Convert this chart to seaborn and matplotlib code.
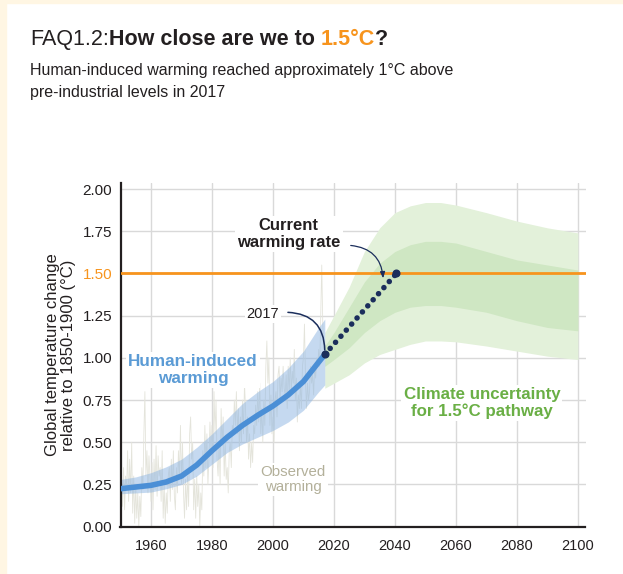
import numpy as np
import matplotlib
matplotlib.use("Agg")
import matplotlib.pyplot as plt
import seaborn as sns
from matplotlib.patches import Rectangle

# human-induced warming (central estimate) and its likely range
hi_years = [1950, 1955, 1960, 1965, 1970, 1975, 1980, 1985, 1990, 1995, 2000, 2005, 2010, 2015, 2017]
hi_vals = [0.225, 0.235, 0.245, 0.265, 0.30, 0.365, 0.45, 0.53, 0.60, 0.66, 0.715, 0.78, 0.86, 0.975, 1.02]
hi_low = [0.195, 0.20, 0.205, 0.225, 0.25, 0.30, 0.37, 0.44, 0.49, 0.53, 0.57, 0.62, 0.69, 0.80, 0.84]
hi_high = [0.28, 0.295, 0.32, 0.355, 0.40, 0.47, 0.55, 0.64, 0.73, 0.80, 0.86, 0.94, 1.04, 1.18, 1.23]

# observed warming, three readings per year 1950-2017
obs_vals = [
    0.05, 0.28, 0.12, 0.35, 0.10, 0.30, 0.22, 0.45, 0.15, 0.40, 0.20, 0.50, 0.08, 0.30, 0.02,
    0.25, 0.05, 0.20, 0.00, 0.18, 0.06, 0.35, 0.22, 0.55, 0.80, 0.30, 0.45, 0.20, 0.42, 0.28,
    0.15, 0.38, 0.10, 0.40, 0.22, 0.48, 0.18, 0.42, 0.30, 0.35, 0.15, 0.45, 0.05, 0.25, 0.02,
    0.20, 0.08, 0.30, 0.35, 0.15, 0.40, 0.22, 0.45, 0.18, 0.10, 0.35, 0.20, 0.45, 0.30, 0.60,
    0.25, 0.50, 0.20, 0.05, 0.28, 0.10, 0.30, 0.12, 0.55, 0.65, 0.40, 0.50, 0.10, 0.28, 0.05,
    0.30, 0.12, 0.25, 0.00, 0.20, 0.10, 0.45, 0.30, 0.60, 0.35, 0.55, 0.25, 0.40, 0.62, 0.45,
    0.60, 0.35, 0.80, 0.55, 0.75, 0.40, 0.30, 0.50, 0.25, 0.70, 0.48, 0.65, 0.30, 0.50, 0.28,
    0.35, 0.20, 0.45, 0.50, 0.35, 0.60, 0.55, 0.75, 0.60, 0.80, 0.55, 0.70, 0.45, 0.65, 0.50,
    0.75, 0.55, 0.85, 0.70, 0.50, 0.65, 0.40, 0.55, 0.35, 0.50, 0.38, 0.60, 0.55, 0.72, 0.60,
    0.80, 0.62, 0.85, 0.55, 0.70, 0.50, 0.75, 0.60, 0.95, 1.10, 0.85, 1.00, 0.60, 0.78, 0.55,
    0.65, 0.50, 0.75, 0.80, 0.65, 0.90, 0.95, 0.75, 0.88, 0.80, 0.95, 0.82, 0.78, 0.90, 0.70,
    0.95, 0.80, 1.00, 0.80, 0.92, 0.85, 1.05, 0.75, 0.88, 0.62, 0.78, 0.70, 0.85, 0.70, 0.95,
    1.00, 1.20, 0.88, 0.70, 0.85, 0.75, 0.80, 0.95, 0.85, 0.90, 0.78, 0.95, 0.88, 1.00, 0.95,
    1.05, 0.95, 1.25, 1.55, 1.20, 1.05, 1.10, 1.00, 1.15,
]
obs_years = 1950 + np.arange(len(obs_vals)) / 3

# 1.5C pathway uncertainty
cone_years = [2017, 2020, 2025, 2030, 2035, 2040, 2045, 2050, 2055, 2060, 2070, 2080, 2090, 2100]
outer_high = [1.15, 1.25, 1.42, 1.63, 1.77, 1.86, 1.90, 1.92, 1.92, 1.905, 1.86, 1.81, 1.77, 1.74]
inner_high = [1.07, 1.15, 1.30, 1.45, 1.56, 1.63, 1.67, 1.69, 1.69, 1.68, 1.63, 1.58, 1.55, 1.52]
inner_low = [0.95, 0.99, 1.06, 1.15, 1.22, 1.27, 1.30, 1.31, 1.31, 1.30, 1.27, 1.22, 1.18, 1.16]
outer_low = [0.82, 0.85, 0.90, 0.97, 1.02, 1.05, 1.08, 1.10, 1.10, 1.095, 1.07, 1.04, 1.01, 0.99]

# current warming rate extrapolation
rate_years = [2017, 2040.5]
rate_vals = [1.02, 1.50]

x_ticks = [1960, 1980, 2000, 2020, 2040, 2060, 2080, 2100]
y_ticks = [0.00, 0.25, 0.50, 0.75, 1.00, 1.25, 1.50, 1.75, 2.00]

DARK = "#231F20"
BLUE = "#4B8FD6"
BLUE_TXT = "#5B9BD5"
GREEN_TXT = "#6AAF45"
ORANGE = "#F7941D"
NAVY = "#1B2E5C"

sns.set_theme(style="white")
plt.rcParams["font.family"] = ["Liberation Sans", "DejaVu Sans"]

W, H = 623, 574
fig = plt.figure(figsize=(W / 100, H / 100), dpi=100, facecolor="white")
# cream frame on left and top
fig.patches.append(Rectangle((0, 0), 6 / W, 1, transform=fig.transFigure, color="#FFF6E3", zorder=0))
fig.patches.append(Rectangle((0, 1 - 3 / H), 1, 3 / H, transform=fig.transFigure, color="#FFF6E3", zorder=0))

ax = fig.add_axes([120.5 / W, 47.3 / H, 465 / W, 343.6 / H])
ax.set_facecolor("none")

ax.plot(obs_years, obs_vals, color="#E4E4DB", lw=0.6, zorder=1)
ax.fill_between(cone_years, outer_low, outer_high, color="#E3F1DA", lw=0, zorder=2)
ax.fill_between(cone_years, inner_low, inner_high, color="#CFE7C3", lw=0, zorder=2)
ax.fill_between(hi_years, hi_low, hi_high, color="#8DB5E2", alpha=0.5, lw=0, zorder=2)
sns.lineplot(x=hi_years, y=hi_vals, ax=ax, color=BLUE, lw=4, zorder=3)
ax.axhline(1.5, color=ORANGE, lw=2, zorder=3)
ax.plot(rate_years, rate_vals, color=NAVY, lw=4.0, linestyle=(0, (0.01, 1.45)),
        dash_capstyle="round", zorder=4)
ax.plot(rate_years, rate_vals, "o", color=NAVY, ms=4.8, zorder=4)

ax.set_xlim(1950, 2102.5)
ax.set_ylim(0, 2.035)
ax.set_xticks(x_ticks)
ax.set_yticks(y_ticks)
ax.set_yticklabels([f"{v:.2f}" for v in y_ticks])
ax.grid(True, color="#D9D9D9", lw=1)
ax.set_axisbelow(True)
for s in ["top", "right"]:
    ax.spines[s].set_visible(False)
for s in ["left", "bottom"]:
    ax.spines[s].set_color(DARK)
    ax.spines[s].set_linewidth(1.6)
ax.tick_params(axis="y", length=4, width=1, color=DARK, labelsize=11, labelcolor=DARK, pad=2)
ax.tick_params(axis="x", length=3, width=1, color="#D9D9D9", labelsize=10.5, labelcolor=DARK, pad=6)
ax.get_yticklabels()[6].set_color(ORANGE)

ax.set_ylabel("Global temperature change\nrelative to 1850-1900 (°C)", fontsize=12, color=DARK, linespacing=1.05)
ax.yaxis.set_label_coords(-0.096, 0.5)

box = dict(facecolor="white", edgecolor="none", pad=1.5)
ax.text(2005.2, 1.733, "Current\nwarming rate", ha="center", va="center", fontsize=12, fontweight="bold",
        color=DARK, linespacing=1.2, bbox=box, zorder=5)
ax.annotate("", xy=(2036.2, 1.455), xytext=(2024.6, 1.667),
            arrowprops=dict(arrowstyle="-|>,head_length=0.3,head_width=0.12", color=NAVY, lw=0.9,
                            connectionstyle="arc3,rad=-0.45"), zorder=5)
ax.text(1996.7, 1.259, "2017", ha="center", va="center", fontsize=10.5, color=DARK, bbox=box, zorder=5)
ax.annotate("", xy=(2017, 1.03), xytext=(2004, 1.27),
            arrowprops=dict(arrowstyle="-", color=NAVY, lw=1.1, connectionstyle="arc3,rad=-0.5"), zorder=5)
ax.text(1973.8, 0.928, "Human-induced\nwarming", ha="center", va="center", fontsize=12.3, fontweight="bold",
        color=BLUE_TXT, linespacing=1.1, bbox=box, zorder=5)
ax.text(2068.5, 0.734, "Climate uncertainty\nfor 1.5°C pathway", ha="center", va="center", fontsize=12.2,
        fontweight="bold", color=GREEN_TXT, linespacing=1.15, bbox=box, zorder=5)
ax.text(2006.6, 0.28, "Observed\nwarming", ha="center", va="center", fontsize=10.8, color="#B3B09A",
        linespacing=1.05, bbox=box, zorder=5)

# title in pieces
renderer = fig.canvas.get_renderer()
title_parts = [("FAQ1.2:", DARK, "normal"), ("How close are we to ", DARK, "bold"),
               ("1.5°C", ORANGE, "bold"), ("?", DARK, "bold")]
x = 30 / W
for txt, col, wt in title_parts:
    t = fig.text(x, 1 - 45 / H, txt, color=col, fontweight=wt, fontsize=15.5, va="baseline")
    x += t.get_window_extent(renderer).width / fig.bbox.width

fig.text(30 / W, 1 - 75 / H, "Human-induced warming reached approximately 1°C above", fontsize=11.5,
         color=DARK, va="baseline")
fig.text(30 / W, 1 - 97 / H, "pre-industrial levels in 2017", fontsize=11.5, color=DARK, va="baseline")

fig.savefig("out.png", dpi=100, facecolor="white")
